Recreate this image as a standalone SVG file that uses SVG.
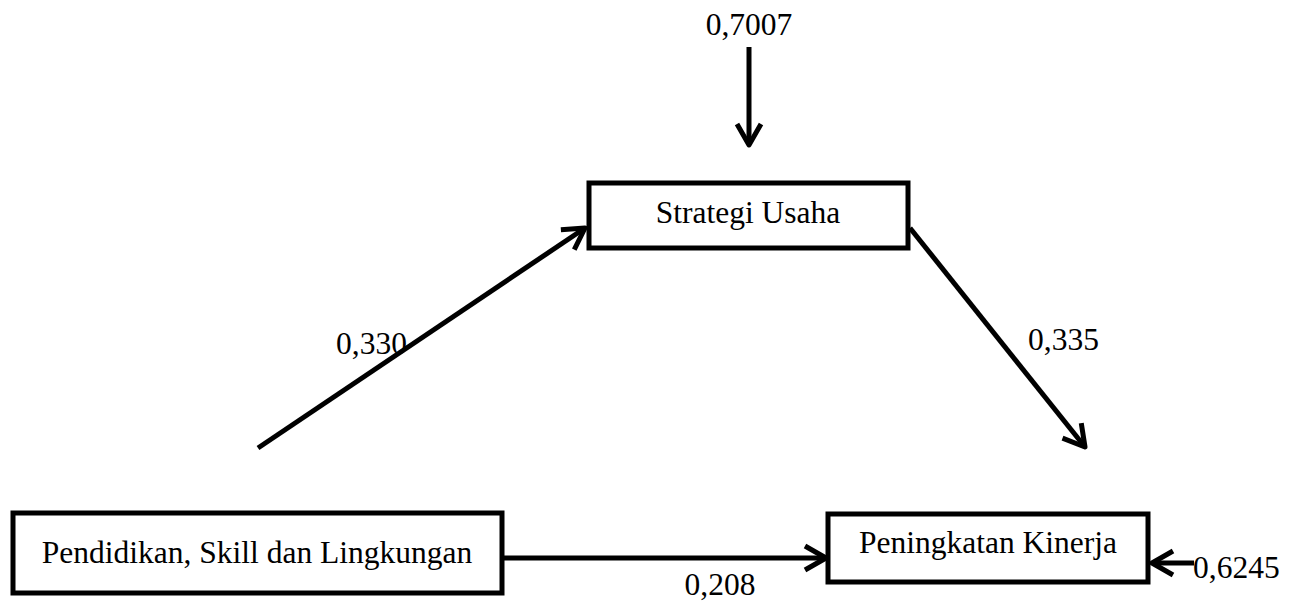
<svg xmlns="http://www.w3.org/2000/svg" width="1293" height="605" viewBox="0 0 1293 605">
<style>
.box{fill:#fff;stroke:#000;stroke-width:5}
.t{font-family:"Liberation Serif","Times New Roman",serif;font-size:31.5px;fill:#000}
.c{text-anchor:middle}
.edge{stroke:#000;stroke-width:5;fill:none;marker-end:url(#arr)}
</style>
<defs>
<marker id="arr" markerUnits="userSpaceOnUse" markerWidth="40" markerHeight="40" viewBox="-30 -20 40 40" refX="0" refY="0" orient="auto" overflow="visible">
<path d="M-21,-12 L0,0 L-21,12" fill="none" stroke="#000" stroke-width="5" stroke-linejoin="round" stroke-linecap="butt"/>
</marker>
</defs>
<rect width="1293" height="605" fill="#fff"/>
<g id="connectors">
<line class="edge" x1="749" y1="47" x2="749" y2="145"/>
<line class="edge" x1="258" y1="448" x2="585" y2="228"/>
<line class="edge" x1="910" y1="228" x2="1085" y2="447"/>
<line class="edge" x1="502" y1="558" x2="826" y2="558"/>
<line class="edge" x1="1194" y1="563" x2="1152" y2="563"/>
<text class="t c" x="749" y="35">0,7007</text>
<text class="t" x="336" y="354">0,330</text>
<text class="t" x="1028" y="350">0,335</text>
<text class="t c" x="720" y="595">0,208</text>
<text class="t" x="1193" y="578">0,6245</text>
</g>
<g id="strategi">
<rect class="box" x="589" y="183" width="319" height="65"/>
<text class="t c" x="748" y="223">Strategi Usaha</text>
</g>
<g id="pendidikan">
<rect class="box" x="13" y="513" width="489" height="80"/>
<text class="t c" x="257" y="563">Pendidikan, Skill dan Lingkungan</text>
</g>
<g id="kinerja">
<rect class="box" x="828" y="514" width="320" height="68"/>
<text class="t c" x="988" y="553">Peningkatan Kinerja</text>
</g>
</svg>
